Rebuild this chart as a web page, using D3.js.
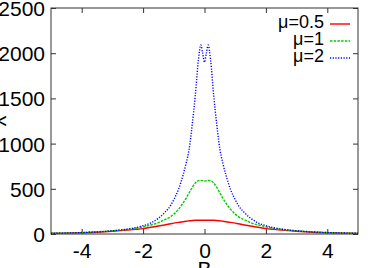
<!DOCTYPE html>
<html><head><meta charset="utf-8">
<script src="https://cdn.jsdelivr.net/npm/d3@7"></script>
<style>body{margin:0;background:#fff}svg{display:block}text{font-family:"Liberation Sans",Arial,sans-serif}</style>
</head><body><svg id="c" width="374" height="268"></svg>
<script>
// Data; B grid is symmetric
const halfB   = [0, 0.06, 0.12, 0.2, 0.3, 0.4, 0.5, 0.6, 0.7, 0.85, 1.0, 1.1, 1.3, 1.5, 1.75, 2, 2.25, 2.5, 3, 3.5, 4, 4.5, 5];
const mu05    = [152, 152, 152, 152, 152, 150, 146, 141, 136, 128, 120, 113, 100, 88, 74, 60, 51, 43, 30, 20, 14, 10, 7];
const mu1     = [586, 590, 592, 590, 565, 515, 455, 395, 342, 272, 220, 192, 158, 125, 100, 80, 63, 51, 35, 24, 16, 11, 8];
const mu2     = [1900, 2000, 2090, 1920, 1530, 1210, 940, 780, 650, 490, 380, 318, 237, 175, 122, 92, 69, 55, 35, 23, 16, 11, 8];
const xTicks  = [-4, -2, 0, 2, 4];
const yTicks  = [0, 500, 1000, 1500, 2000, 2500];
const seriesNames  = ["μ=0.5", "μ=1", "μ=2"];
const seriesColors = ["#ff0000", "#00cc00", "#0000ff"];
const seriesDash   = [null, "2.5,1.2", "1.2,1.5"];
const xLabel = "B", yLabel = "χ";

function mirror(h, v) {
  const pts = [];
  for (let i = h.length - 1; i > 0; i--) pts.push([-h[i], v[i]]);
  for (let i = 0; i < h.length; i++) pts.push([h[i], v[i]]);
  return pts;
}
const series = [mu05, mu1, mu2].map(v => mirror(halfB, v));

const svg = d3.select("#c");
const L = 51, R = 358, T = 8, Bt = 234;
const x = d3.scaleLinear().domain([-5, 5]).range([L, R]);
const y = d3.scaleLinear().domain([0, 2500]).range([Bt, T]);
const fs = 21;
const fmt = d => String(d);

// axes with inward ticks
const gb = svg.append("g").attr("transform", `translate(0,${Bt})`)
  .call(d3.axisBottom(x).tickValues(xTicks).tickSize(-5).tickPadding(9).tickFormat(fmt));
const gt = svg.append("g").attr("transform", `translate(0,${T})`)
  .call(d3.axisTop(x).tickValues(xTicks).tickSize(-5).tickFormat(""));
const gl = svg.append("g").attr("transform", `translate(${L},0)`)
  .call(d3.axisLeft(y).tickValues(yTicks).tickSize(-5).tickPadding(6).tickFormat(fmt));
const gr = svg.append("g").attr("transform", `translate(${R},0)`)
  .call(d3.axisRight(y).tickValues(yTicks).tickSize(-5).tickFormat(""));
[gb, gt, gl, gr].forEach(g => {
  g.select(".domain").remove();
  g.selectAll("line").attr("stroke", "#333");
  g.selectAll("text").attr("font-size", fs).attr("fill", "#000")
    .attr("font-family", "Liberation Sans, Arial, sans-serif");
});
gl.selectAll("text").attr("dy", "0.36em");
gb.selectAll("text").attr("dy", "0.72em");

svg.append("rect").attr("x", L).attr("y", T).attr("width", R - L).attr("height", Bt - T)
  .attr("fill", "none").attr("stroke", "#333").attr("stroke-width", 1);

const line = d3.line().x(d => x(d[0])).y(d => y(d[1])).curve(d3.curveMonotoneX);
series.forEach((s, i) => {
  svg.append("path").datum(s).attr("d", line).attr("fill", "none")
    .attr("stroke", seriesColors[i]).attr("stroke-width", 1.4)
    .attr("stroke-dasharray", seriesDash[i]);
});

// legend
const leg = svg.append("g");
seriesNames.forEach((n, i) => {
  const ly = 24 + i * 17;
  leg.append("text").attr("x", 324).attr("y", ly + 4).attr("text-anchor", "end")
    .attr("font-size", 18).text(n);
  leg.append("line").attr("x1", 330).attr("x2", 350).attr("y1", ly).attr("y2", ly)
    .attr("stroke", seriesColors[i]).attr("stroke-width", 1.4)
    .attr("stroke-dasharray", seriesDash[i]);
});

// axis labels (mostly clipped in the original)
svg.append("text").attr("x", x(0)).attr("y", 276).attr("text-anchor", "middle")
  .attr("font-size", fs).text(xLabel);
svg.append("text").attr("transform", `translate(2,${(T + Bt) / 2}) rotate(-90)`)
  .attr("text-anchor", "middle").attr("font-size", fs).text(yLabel);
</script></body></html>
